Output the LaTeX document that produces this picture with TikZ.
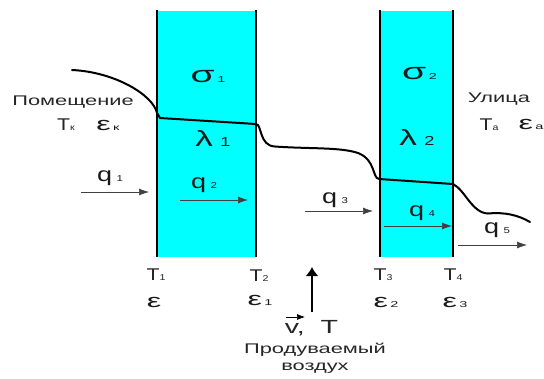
\documentclass[tikz,border=0pt]{standalone}
\usepackage{fontspec}
\setmainfont{Liberation Sans}
\usetikzlibrary{arrows.meta}
\definecolor{panecyan}{RGB}{0,255,255}
\newcommand{\sx}[2]{\scalebox{#1}[1]{#2}}
\newcommand{\sbs}[1]{{\fontsize{8.5}{9}\selectfont #1}}
\tikzset{
  wall/.style={line width=2pt,black},
  curve/.style={line width=2pt,black,line cap=round},
  flux/.style={line width=0.6pt,black!75,-{Latex[length=10pt,width=7pt]}},
  lab/.style={inner sep=0pt,font=\fontsize{14}{17}\selectfont,text=black!85,align=center},
  tee/.style={inner sep=0pt,font=\fontsize{17}{18}\selectfont,text=black!85},
  que/.style={inner sep=0pt,font=\fontsize{20}{21}\selectfont,text=black!90},
  eps/.style={inner sep=0pt,font=\fontsize{19}{20}\selectfont,text=black!90},
  sig/.style={inner sep=0pt,font=\fontsize{23}{24}\selectfont,text=black!90},
  lam/.style={inner sep=0pt,font=\fontsize{22}{23}\selectfont,text=black!90},
  pane/.style={fill=panecyan,draw=none},
}
\begin{document}
\begin{tikzpicture}[x=1pt,y=-1pt]
\useasboundingbox (0,0) rectangle (544,378);
\fill[white] (0,0) rectangle (544,378);
\fill[pane] (157,11) rectangle (256,257);
\fill[pane] (380,11) rectangle (453,257);
\foreach \n/\x in {a/157,b/256,c/380,d/453}{
  \coordinate (\n top) at (\x,10);
  \coordinate (\n bot) at (\x,257);
  \draw[wall] (\n top) -- (\n bot);
}
\coordinate (c0) at (72,70);
\coordinate (c1) at (160,118);
\coordinate (c2) at (256,124);
\coordinate (c3) at (379,179);
\coordinate (c4) at (453,184);
\coordinate (c5) at (530,222);
\draw[curve] (c0) .. controls (115,72) and (153,95) .. (157,113) -- (c1) -- (c2)
  .. controls (262,124) and (259,146) .. (275,146.5)
  .. controls (310,149) and (340,147) .. (358,153)
  .. controls (376,160) and (372,178) .. (c3) -- (c4)
  .. controls (465,190) and (472,213) .. (488,213.5)
  .. controls (505,212) and (518,215) .. (c5);

\node[lab] (room) at (73,102) {\sx{1.56}{Помещение}};
\node[lab] (street) at (499,99) {\sx{1.56}{Улица}};
\node[tee] (tk) at (66,125) {\sx{1.25}{T\sbs{к}}};
\node[eps] (ek) at (108,125) {\sx{1.7}{ε\sbs{\,к}}};
\node[tee] (ta) at (489,125) {\sx{1.25}{T\sbs{а}}};
\node[eps] (ea) at (531,124) {\sx{1.7}{ε\sbs{\,а}}};

\node[sig] (s1) at (208,77) {\sx{1.7}{σ\sbs{\,1}}};
\node[sig] (s2) at (419.5,74) {\sx{1.7}{σ\sbs{\,2}}};
\node[lam] (l1) at (213,139) {\sx{1.6}{λ}\,\,{\fontsize{13}{14}\selectfont\sx{1.4}{1}}};
\node[lam] (l2) at (417,138) {\sx{1.6}{λ}\,\,{\fontsize{13}{14}\selectfont\sx{1.4}{2}}};

\node[que] (q1) at (110,178) {\sx{1.35}{q\,\sbs{1}}};
\node[que] (q2) at (204,185) {\sx{1.35}{q\,\sbs{2}}};
\node[que] (q3) at (335,200) {\sx{1.35}{q\,\sbs{3}}};
\node[que] (q4) at (422,213) {\sx{1.35}{q\,\sbs{4}}};
\node[que] (q5) at (497,230) {\sx{1.35}{q\,\sbs{5}}};

\coordinate (f1a) at (81,192); \coordinate (f1b) at (149,192);
\coordinate (f2a) at (180,200); \coordinate (f2b) at (248,200);
\coordinate (f3a) at (305,211); \coordinate (f3b) at (373,211);
\coordinate (f4a) at (384,226); \coordinate (f4b) at (452,226);
\coordinate (f5a) at (458,245); \coordinate (f5b) at (527,245);
\draw[flux] (f1a) -- (f1b);
\draw[flux] (f2a) -- (f2b);
\draw[flux] (f3a) -- (f3b);
\draw[flux] (f4a) -- (f4b);
\draw[flux] (f5a) -- (f5b);

\node[tee] (t1) at (156,275) {\sx{1.25}{T\sbs{1}}};
\node[tee] (t2) at (259,276) {\sx{1.25}{T\sbs{2}}};
\node[tee] (t3) at (383,275) {\sx{1.25}{T\sbs{3}}};
\node[tee] (t4) at (453,275) {\sx{1.25}{T\sbs{4}}};
\node[eps] (e0) at (154,302) {\sx{1.7}{ε}};
\node[eps] (e1) at (260,300) {\sx{1.7}{ε\sbs{\,1}}};
\node[eps] (e2) at (386,302) {\sx{1.7}{ε\sbs{\,2}}};
\node[eps] (e3) at (455,302) {\sx{1.7}{ε\sbs{\,3}}};

\coordinate (airA) at (312,312);
\coordinate (airB) at (312,267);
\draw[line width=2pt,black,-{Latex[length=9pt,width=13pt]}] (airA) -- (airB);
\node[inner sep=0pt,font=\fontsize{19}{20}\selectfont,text=black!85] (vt) at (311.5,328) {\sx{1.5}{v,\; T}};
\coordinate (va) at (286,317); \coordinate (vb) at (305,317);
\draw[line width=0.7pt,black,-{Latex[length=8pt,width=6pt]}] (va) -- (vb);
\node[lab] (air) at (315,358) {\sx{1.56}{Продуваемый}\\\sx{1.56}{воздух}};
\end{tikzpicture}
\end{document}
